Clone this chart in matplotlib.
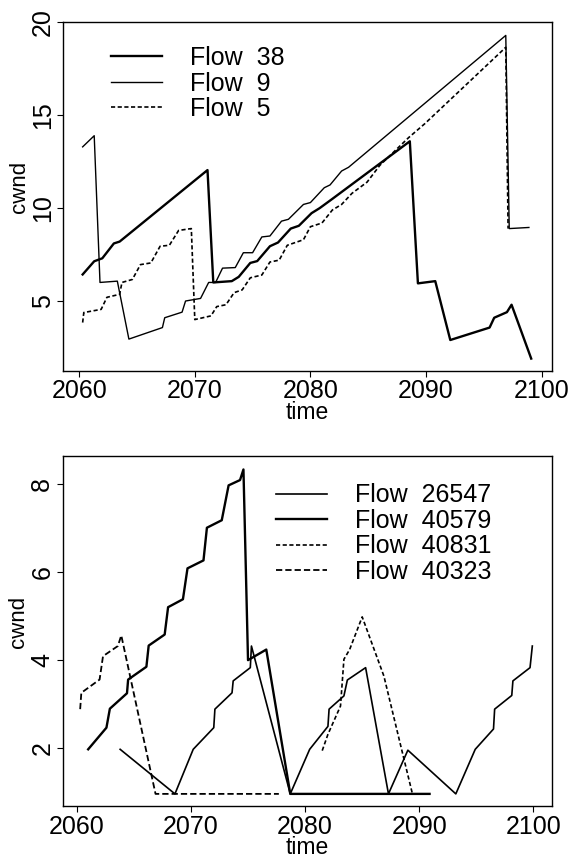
import matplotlib
matplotlib.use("Agg")
import matplotlib.pyplot as plt

plt.rcParams['font.family'] = ['Liberation Sans', 'DejaVu Sans']
plt.rcParams['lines.scale_dashes'] = False

# ---- top panel data ----
f38_t = [2060.3, 2061.3, 2062.0, 2063.0, 2063.5, 2071.1, 2071.6, 2073.2, 2073.8, 2074.8,
         2075.4, 2076.5, 2077.2, 2078.3, 2079.0, 2080.1, 2080.8, 2081.9, 2088.6, 2089.3,
         2090.8, 2092.1, 2095.5, 2095.9, 2097.0, 2097.4, 2099.1]
f38_y = [6.43, 7.14, 7.3, 8.1, 8.2, 12.05, 6.0, 6.07, 6.3, 7.05,
         7.15, 7.95, 8.15, 8.9, 9.05, 9.73, 10.0, 10.5, 13.6, 5.95,
         6.07, 2.9, 3.57, 4.1, 4.4, 4.8, 1.9]

f9_t = [2060.3, 2061.3, 2061.8, 2063.3, 2064.3, 2067.2, 2067.4, 2068.9, 2069.2, 2070.5,
        2071.2, 2071.8, 2072.4, 2073.5, 2074.2, 2075.0, 2075.8, 2076.5, 2077.5, 2078.1,
        2079.4, 2080.0, 2081.2, 2081.7, 2082.7, 2083.3, 2096.9, 2097.2, 2098.9]
f9_y = [13.3, 13.9, 6.0, 6.07, 2.95, 3.57, 4.1, 4.4, 5.0, 5.14,
        6.0, 6.0, 6.77, 6.8, 7.6, 7.6, 8.45, 8.5, 9.3, 9.4,
        10.2, 10.3, 11.1, 11.25, 12.0, 12.2, 19.3, 8.9, 8.96]

f5_t = [2060.3, 2060.4, 2061.9, 2062.4, 2063.5, 2063.7, 2064.6, 2065.3, 2066.2, 2067.0,
        2067.8, 2068.6, 2069.7, 2070.0, 2071.4, 2071.9, 2072.7, 2073.4, 2074.1, 2074.8,
        2075.8, 2076.5, 2077.3, 2078.0, 2079.4, 2080.0, 2081.0, 2081.9, 2082.7, 2083.6,
        2084.9, 2086.0, 2088.5, 2089.9, 2096.9, 2097.1]
f5_y = [3.84, 4.38, 4.55, 5.2, 5.36, 6.0, 6.16, 6.96, 7.05, 7.95,
        8.0, 8.8, 8.9, 4.0, 4.2, 4.7, 4.8, 5.45, 5.6, 6.25,
        6.4, 7.1, 7.2, 8.0, 8.3, 9.0, 9.2, 9.9, 10.2, 10.8,
        11.4, 12.3, 13.8, 14.55, 18.66, 8.9]

# ---- bottom panel data ----
f26547_t = [2063.8, 2068.6, 2070.2, 2072.0, 2072.1, 2073.6, 2073.7, 2075.2, 2075.3, 2078.7,
            2080.4, 2082.0, 2082.1, 2083.4, 2083.7, 2085.3, 2087.3, 2089.0, 2093.2, 2094.9,
            2096.5, 2096.6, 2098.1, 2098.2, 2099.7, 2099.9]
f26547_y = [1.98, 0.97, 1.98, 2.47, 2.89, 3.26, 3.53, 3.83, 4.32, 0.97,
            1.98, 2.5, 2.89, 3.19, 3.55, 3.83, 0.97, 1.96, 0.97, 1.98,
            2.44, 2.89, 3.2, 3.53, 3.83, 4.32]

f40579_t = [2061.0, 2062.6, 2062.9, 2064.4, 2064.5, 2066.1, 2066.3, 2067.7, 2068.0, 2069.3,
            2069.7, 2071.1, 2071.4, 2072.7, 2073.3, 2074.3, 2074.6, 2075.0, 2076.6, 2078.7,
            2090.9]
f40579_y = [1.98, 2.47, 2.9, 3.25, 3.56, 3.85, 4.33, 4.58, 5.2, 5.38,
            6.08, 6.26, 7.0, 7.17, 7.96, 8.08, 8.32, 4.0, 4.24, 0.97,
            0.97]

f40831_t = [2081.5, 2082.0, 2083.1, 2083.4, 2083.9, 2085.0, 2086.9, 2088.3, 2089.4]
f40831_y = [1.95, 2.32, 2.96, 4.02, 4.24, 4.98, 3.64, 2.14, 0.97]

f40323_t = [2060.3, 2060.4, 2062.0, 2062.3, 2063.6, 2063.9, 2066.9, 2077.7]
f40323_y = [2.89, 3.26, 3.56, 4.09, 4.32, 4.56, 0.97, 0.97]

FS = 18

fig = plt.figure(figsize=(5.79, 8.60), dpi=100)
ax1 = fig.add_axes([0.1088, 0.569, 0.8446, 0.406])
ax2 = fig.add_axes([0.1083, 0.0625, 0.8446, 0.407])

ax1.plot(f38_t, f38_y, color='black', lw=1.7, label='Flow  38')
ax1.plot(f9_t, f9_y, color='black', lw=1.0, label='Flow  9')
ax1.plot(f5_t, f5_y, color='black', lw=1.2, dashes=(3, 1.8), label='Flow  5')
ax1.set_xlim(2058.6, 2100.9)
ax1.set_ylim(1.25, 20.05)
ax1.set_yticks([5, 10, 15, 20])

ax2.plot(f26547_t, f26547_y, color='black', lw=1.2, label='Flow  26547')
ax2.plot(f40579_t, f40579_y, color='black', lw=1.7, label='Flow  40579')
ax2.plot(f40831_t, f40831_y, color='black', lw=1.2, dashes=(3, 1.8), label='Flow  40831')
ax2.plot(f40323_t, f40323_y, color='black', lw=1.3, dashes=(4.5, 2.2), label='Flow  40323')
ax2.set_xlim(2058.77, 2101.6)
ax2.set_ylim(0.69, 8.62)
ax2.set_yticks([2, 4, 6, 8])

for ax in (ax1, ax2):
    ax.set_xticks([2060, 2070, 2080, 2090, 2100])
    ax.tick_params(direction='out', length=4, width=0.8, labelsize=FS, pad=2)
    for lab in ax.get_yticklabels():
        lab.set_rotation(90)
        lab.set_va('center')
    for s in ax.spines.values():
        s.set_linewidth(1.0)
    ax.set_xlabel('time', fontsize=16.5, labelpad=-1.5)
    ax.set_ylabel('cwnd', fontsize=16)
    ax.yaxis.set_label_coords(-0.068, 0.527)

ax1.legend(loc='upper left', bbox_to_anchor=(0.073, 0.965), frameon=False, fontsize=FS,
           handlelength=2.05, handletextpad=1.1, labelspacing=0.06, borderpad=0)
ax2.legend(loc='upper left', bbox_to_anchor=(0.411, 0.958), frameon=False, fontsize=FS,
           handlelength=2.05, handletextpad=1.1, labelspacing=0.06, borderpad=0)

fig.savefig('out.png', dpi=100)
